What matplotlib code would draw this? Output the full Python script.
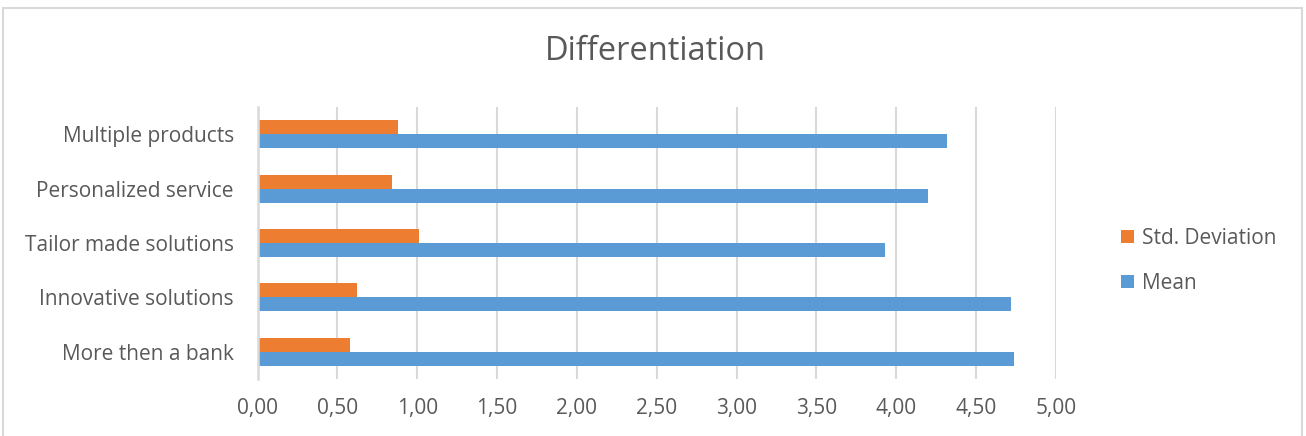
import matplotlib
matplotlib.use("Agg")
import matplotlib.pyplot as plt
from matplotlib.patches import Rectangle
from matplotlib.ticker import FuncFormatter
import numpy as np

plt.rcParams['font.family'] = ['Open Sans', 'DejaVu Sans']

categories = ['More then a bank', 'Innovative solutions', 'Tailor made solutions',
              'Personalized service', 'Multiple products']
mean_vals = [4.74, 4.72, 3.93, 4.20, 4.32]
std_vals = [0.58, 0.62, 1.01, 0.84, 0.88]

blue = '#5B9BD5'
orange = '#ED7D31'
txt = '#595959'
grid = '#D9D9D9'

W, H = 1306, 436
fig = plt.figure(figsize=(W / 100, H / 100), dpi=100)

# outer chart border
fig.patches.append(Rectangle((3 / W, -0.05), 1299 / W, 1.05 - 8 / H,
                             transform=fig.transFigure, fill=False,
                             edgecolor=grid, linewidth=1.5))

# plot area in pixels: x 257.5..1056, y 107..379
ax = fig.add_axes([257.5 / W, 1 - 379 / H, (1056 - 257.5) / W, (379 - 107) / H])

y = np.arange(len(categories))
h = 0.258
ax.barh(y - h / 2, mean_vals, height=h, color=blue, label='Mean', zorder=3)
ax.barh(y + h / 2, std_vals, height=h, color=orange, label='Std. Deviation', zorder=3)

ax.set_xlim(0, 5)
ax.set_ylim(-0.5, len(categories) - 0.5)
ax.set_xticks(np.arange(0, 5.01, 0.5))
ax.xaxis.set_major_formatter(FuncFormatter(lambda v, p: f'{v:.2f}'.replace('.', ',')))
ax.set_yticks(y)
ax.set_yticklabels(categories)

ax.grid(axis='x', color=grid, linewidth=1.5, zorder=0)
for s in ['top', 'right', 'bottom']:
    ax.spines[s].set_visible(False)
ax.spines['left'].set_color(grid)
ax.spines['left'].set_linewidth(1.8)
ax.spines['left'].set_zorder(4)

ax.tick_params(axis='both', length=0, labelsize=15, colors=txt)
ax.tick_params(axis='y', pad=17)
ax.tick_params(axis='x', pad=14)

fig.text(655 / W, 1 - 52 / H, 'Differentiation', ha='center', va='center',
         fontsize=23.5, color=txt)

handles, labels = ax.get_legend_handles_labels()
fig.legend(handles[::-1], labels[::-1], loc='upper left',
           bbox_to_anchor=(1102 / W, 1 - 209 / H), frameon=False,
           fontsize=15, labelcolor=txt, handlelength=0.62, handleheight=0.62,
           handletextpad=0.4, labelspacing=1.15)

fig.savefig('out.png', dpi=100, facecolor='white')
